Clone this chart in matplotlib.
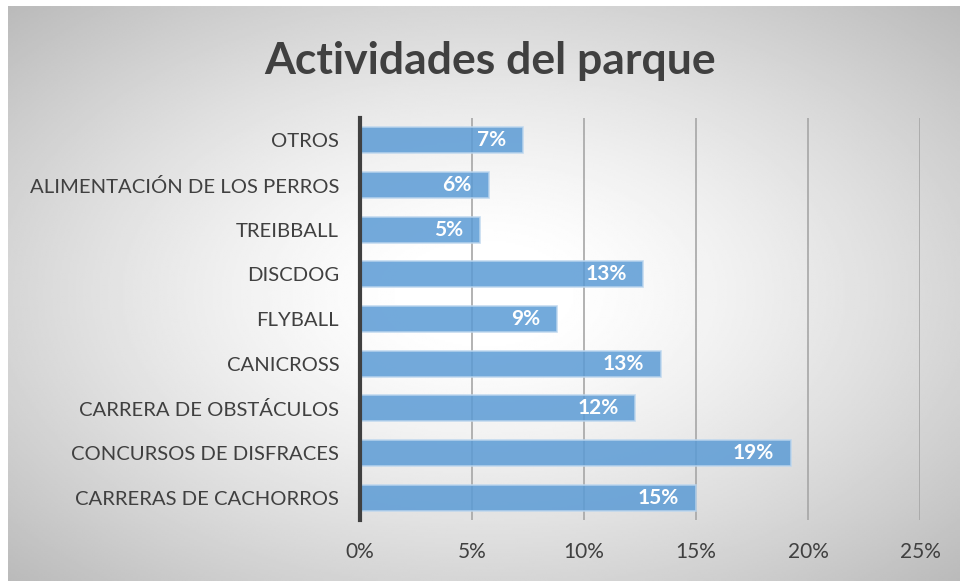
import numpy as np
import matplotlib.pyplot as plt
from matplotlib.ticker import FuncFormatter

# datos
categorias = ['CARRERAS DE CACHORROS', 'CONCURSOS DE DISFRACES', 'CARRERA DE OBSTÁCULOS',
              'CANICROSS', 'FLYBALL', 'DISCDOG', 'TREIBBALL',
              'ALIMENTACIÓN DE LOS PERROS', 'OTROS']
valores = [14.99, 19.23, 12.29, 13.42, 8.80, 12.65, 5.37, 5.74, 7.29]
ticks_x = [0, 5, 10, 15, 20, 25]

plt.rcParams['font.family'] = ['Lato', 'DejaVu Sans']

fig = plt.figure(figsize=(9.6, 5.81), dpi=100)
fig.patch.set_facecolor('white')

# fondo con degradado radial
bg = fig.add_axes([8/960, 0, 952/960, 575/581])
yy, xx = np.mgrid[-1:1:300j, -1:1:500j]
r = np.sqrt(xx**2 + yy**2) / np.sqrt(2)
g = 1 - 0.27 * np.clip((r - 0.1) / 0.9, 0, 1) ** 1.3
bg.imshow(g, cmap='gray', vmin=0, vmax=1, aspect='auto', extent=[0, 1, 0, 1])
bg.axis('off')

ax = fig.add_axes([360/960, 1 - 520/581, 560/960, 402/581])
ax.patch.set_alpha(0)

pos = np.arange(len(categorias))
ax.barh(pos, valores, height=0.58, color='#5b9bd5', alpha=0.85,
        edgecolor='#bcd6ee', linewidth=1.2, zorder=3)
ax.set_ylim(-0.5, len(categorias) - 0.5)
ax.set_xlim(0, 25)
ax.set_xticks(ticks_x)
ax.xaxis.set_major_formatter(FuncFormatter(lambda v, p: f'{v:.0f}%'))
ax.set_yticks(pos)
ax.set_yticklabels(categorias)

ax.grid(axis='x', color='#a6a6a6', linewidth=1.2, zorder=4)
for s in ['top', 'right', 'bottom']:
    ax.spines[s].set_visible(False)
ax.spines['left'].set_color('#404040')
ax.spines['left'].set_linewidth(3)
ax.spines['left'].set_zorder(5)
ax.tick_params(axis='both', length=0, labelsize=15, colors='#404040')
ax.tick_params(axis='y', pad=15, labelsize=14.6)
ax.tick_params(axis='x', pad=16)

for p, v in zip(pos, valores):
    ax.text(v - 0.75, p, f'{v:.0f}%', ha='right', va='center', color='white',
            fontsize=15, fontweight='bold', zorder=6)

fig.text(0.51, 0.895, 'Actividades del parque', ha='center', va='center',
         fontsize=32, fontweight='bold', color='#404040')

fig.savefig('out.png', dpi=100)
